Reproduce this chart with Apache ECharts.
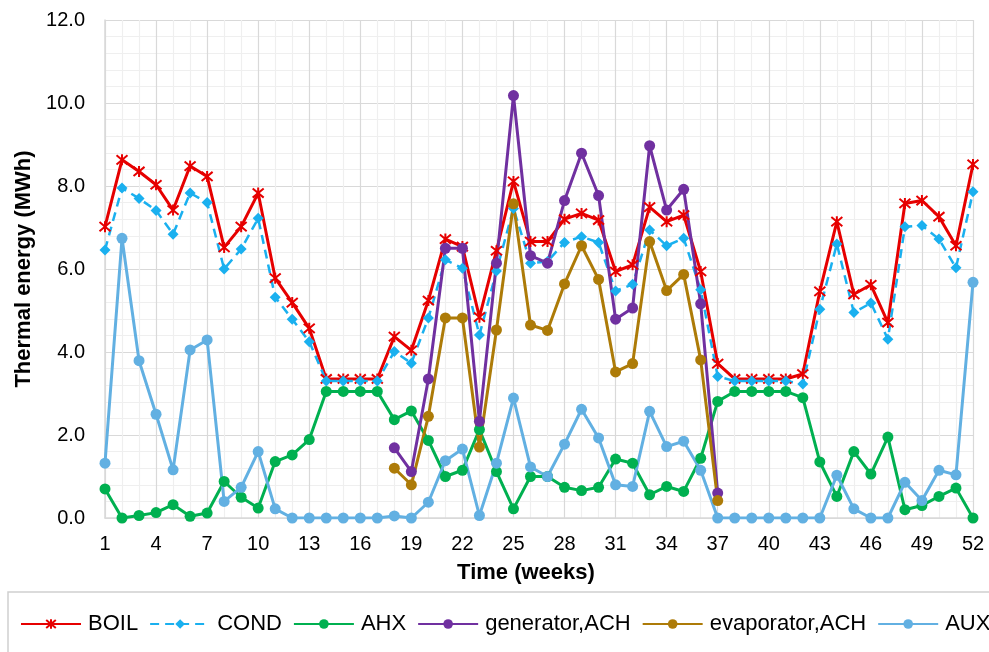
<!DOCTYPE html>
<html>
<head>
<meta charset="utf-8">
<script src="https://cdn.jsdelivr.net/npm/echarts@6/dist/echarts.min.js"></script>
<style>
  html, body { margin: 0; padding: 0; background: #ffffff; }
  #chart { width: 989px; height: 652px; }
</style>
</head>
<body>
<div id="chart"></div>
<script>
// Weekly thermal energy per component (MWh)
const weeks = ['1','2','3','4','5','6','7','8','9','10','11','12','13','14','15','16','17','18','19','20',
  '21','22','23','24','25','26','27','28','29','30','31','32','33','34','35','36','37','38','39','40',
  '41','42','43','44','45','46','47','48','49','50','51','52'];

const boil = [7.02, 8.63, 8.35, 8.03, 7.42, 8.48, 8.23, 6.52, 7.02, 7.83, 5.78, 5.19, 4.57, 3.35, 3.35, 3.35, 3.35,
  4.37, 4.04, 5.24, 6.72, 6.54, 4.84, 6.44, 8.11, 6.66, 6.66, 7.20, 7.34, 7.18, 5.94, 6.10, 7.49, 7.14, 7.30,
  5.94, 3.72, 3.35, 3.35, 3.35, 3.35, 3.47, 5.46, 7.14, 5.39, 5.62, 4.71, 7.58, 7.65, 7.26, 6.56, 8.52];

const cond = [6.46, 7.95, 7.70, 7.41, 6.84, 7.83, 7.60, 6.00, 6.48, 7.22, 5.32, 4.79, 4.25, 3.30, 3.30, 3.30, 3.30,
  4.01, 3.73, 4.82, 6.22, 6.02, 4.41, 5.95, 7.46, 6.14, 6.18, 6.64, 6.78, 6.64, 5.47, 5.63, 6.94, 6.56, 6.74,
  5.50, 3.41, 3.30, 3.30, 3.30, 3.30, 3.23, 5.03, 6.60, 4.95, 5.18, 4.31, 7.02, 7.05, 6.72, 6.03, 7.86];

const ahx = [0.70, 0.00, 0.06, 0.13, 0.32, 0.04, 0.12, 0.88, 0.50, 0.24, 1.36, 1.52, 1.89, 3.05, 3.05, 3.05, 3.05,
  2.37, 2.58, 1.87, 1.00, 1.15, 2.13, 1.12, 0.22, 1.00, 1.00, 0.74, 0.66, 0.74, 1.42, 1.32, 0.56, 0.76, 0.64,
  1.44, 2.81, 3.05, 3.05, 3.05, 3.05, 2.90, 1.35, 0.52, 1.60, 1.06, 1.95, 0.20, 0.30, 0.52, 0.72, 0.00];

// absorption chiller only runs in weeks 18-37
const generatorAch = [null, null, null, null, null, null, null, null, null, null, null, null, null, null, null, null, null,
  1.69, 1.12, 3.35, 6.50, 6.50, 2.33, 6.14, 10.18, 6.32, 6.14, 7.65, 8.79, 7.77, 4.79, 5.06, 8.97, 7.42, 7.92,
  5.16, 0.60, null, null, null, null, null, null, null, null, null, null, null, null, null, null, null];

const evaporatorAch = [null, null, null, null, null, null, null, null, null, null, null, null, null, null, null, null, null,
  1.20, 0.80, 2.45, 4.82, 4.82, 1.71, 4.53, 7.57, 4.65, 4.52, 5.64, 6.56, 5.75, 3.52, 3.72, 6.66, 5.48, 5.87,
  3.81, 0.42, null, null, null, null, null, null, null, null, null, null, null, null, null, null, null];

const aux = [1.32, 6.74, 3.79, 2.50, 1.16, 4.05, 4.29, 0.40, 0.74, 1.60, 0.22, 0.00, 0.00, 0.00, 0.00, 0.00, 0.00,
  0.05, 0.00, 0.38, 1.38, 1.66, 0.06, 1.32, 2.89, 1.23, 1.00, 1.78, 2.62, 1.93, 0.80, 0.76, 2.57, 1.72, 1.85,
  1.15, 0.00, 0.00, 0.00, 0.00, 0.00, 0.00, 0.00, 1.03, 0.22, 0.00, 0.00, 0.86, 0.42, 1.15, 1.04, 5.68];

const FONT = "'Liberation Sans', Arial, sans-serif";
const MAJOR = '#d9d9d9';
const MINOR = '#efefef';

// six-armed star marker (X with a vertical bar)
const STAR = 'path://M0,0L10,10M10,0L0,10M5,-1L5,11';

function lineSeries(name, data, color, symbol, size, extra) {
  return Object.assign({
    name: name,
    type: 'line',
    data: data,
    symbol: symbol,
    symbolSize: size,
    showAllSymbol: true,
    connectNulls: false,
    lineStyle: { color: color, width: 3 },
    itemStyle: { color: color },
    emphasis: { disabled: true },
    animation: false
  }, extra || {});
}

const chart = echarts.init(document.getElementById('chart'), null, { renderer: 'canvas' });

chart.setOption({
  backgroundColor: '#ffffff',
  textStyle: { fontFamily: FONT },
  grid: { left: 105, right: 16, top: 20, bottom: 134, containLabel: false },
  xAxis: {
    type: 'category',
    data: weeks,
    boundaryGap: false,
    name: 'Time (weeks)',
    nameLocation: 'middle',
    nameGap: 44,
    nameTextStyle: { fontFamily: FONT, fontSize: 22, fontWeight: 'bold', color: '#000', padding: [0, 26, 0, 0] },
    axisLine: { show: true, lineStyle: { color: MAJOR, width: 1.5 } },
    axisTick: { show: false },
    axisLabel: { interval: 2, margin: 16, fontFamily: FONT, fontSize: 20, color: '#000' },
    splitLine: {
      show: true,
      interval: 0,
      lineStyle: { color: [MAJOR, MINOR, MINOR], width: 1.2 }
    }
  },
  yAxis: {
    type: 'value',
    min: 0,
    max: 12,
    interval: 2,
    name: 'Thermal energy (MWh)',
    nameLocation: 'middle',
    nameRotate: 90,
    nameGap: 63,
    nameTextStyle: { fontFamily: FONT, fontSize: 22, fontWeight: 'bold', color: '#000' },
    axisLine: { show: true, lineStyle: { color: MAJOR, width: 1.5 } },
    axisTick: { show: false },
    axisLabel: {
      margin: 20, fontFamily: FONT, fontSize: 20, color: '#000',
      formatter: function (v) { return v.toFixed(1); }
    },
    splitLine: { show: true, lineStyle: { color: MAJOR, width: 1.2 } },
    minorTick: { show: false, splitNumber: 5 },
    minorSplitLine: { show: true, lineStyle: { color: MINOR, width: 1.2 } }
  },
  legend: {
    left: 15,
    top: 608,
    width: 1400,
    itemWidth: 60,
    itemHeight: 12,
    itemGap: 11,
    textStyle: { fontFamily: FONT, fontSize: 22, color: '#000', padding: [0, 0, 0, 2] },
    data: ['BOIL', 'COND', 'AHX', 'generator,ACH', 'evaporator,ACH', 'AUX']
  },
  graphic: [{
    type: 'rect',
    silent: true,
    shape: { x: 8, y: 592, width: 1200, height: 200 },
    style: { fill: 'none', stroke: '#d0d0d0', lineWidth: 1.5 }
  }],
  series: [
    lineSeries('BOIL', boil, '#e60000', STAR, 11, {
      itemStyle: { color: '#e60000', borderColor: '#e60000', borderWidth: 2 }
    }),
    lineSeries('COND', cond, '#1ab0ef', 'diamond', 11, {
      lineStyle: { color: '#1ab0ef', width: 2.5, type: [9, 6] }
    }),
    lineSeries('AHX', ahx, '#00b050', 'circle', 11),
    lineSeries('generator,ACH', generatorAch, '#7030a0', 'circle', 11),
    lineSeries('evaporator,ACH', evaporatorAch, '#ad7b08', 'circle', 11),
    lineSeries('AUX', aux, '#62b0e2', 'circle', 11)
  ]
});
</script>
</body>
</html>
